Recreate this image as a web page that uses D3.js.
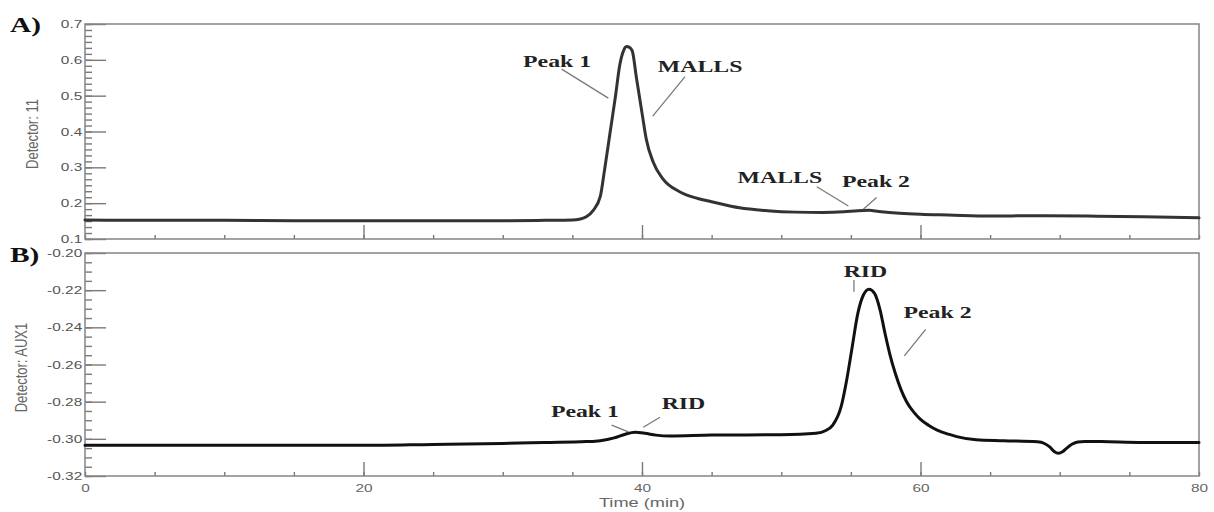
<!DOCTYPE html>
<html>
<head>
<meta charset="utf-8">
<script src="https://cdn.jsdelivr.net/npm/d3@7"></script>
<style>
	html, body { margin: 0; padding: 0; background: #fff; }
	svg { display: block; }
	.frame { fill: none; stroke: #858585; stroke-width: 1.5; }
	.axtitle { font-family: "Liberation Sans", Arial, sans-serif; font-size: 13px; fill: #666; }
	.note { font-family: "Liberation Serif", "Times New Roman", serif; font-weight: bold; font-size: 17px; fill: #222; }
	.tag { font-family: "Liberation Serif", "Times New Roman", serif; font-weight: bold; font-size: 21px; fill: #111; }
	.leader { stroke: #7a7a7a; stroke-width: 1.3; }
	.trace { fill: none; stroke-linejoin: round; stroke-linecap: round; }
</style>
</head>
<body>
<svg id="chart" width="1214" height="512"></svg>
<script>
// A) MALLS detector (Detector 11)
var timeA = [0, 5, 10, 15, 20, 25, 30, 33, 35, 35.5, 36, 36.5, 37, 37.3, 37.7, 38.1, 38.4, 38.7, 38.9, 39.1, 39.3, 39.6, 40, 40.3, 40.8, 41.5, 42.7, 44, 45, 47, 49, 51, 53, 54.5, 55.5, 56.3, 57, 58.5, 60, 62, 65, 68, 72, 76, 80];
var signalA = [0.153, 0.152, 0.152, 0.151, 0.151, 0.151, 0.151, 0.152, 0.153, 0.155, 0.162, 0.18, 0.218, 0.29, 0.395, 0.50, 0.585, 0.628, 0.637, 0.635, 0.625, 0.55, 0.452, 0.38, 0.315, 0.268, 0.232, 0.213, 0.204, 0.187, 0.179, 0.175, 0.174, 0.176, 0.179, 0.180, 0.177, 0.172, 0.169, 0.167, 0.164, 0.165, 0.164, 0.162, 0.159];

// B) RID detector (AUX1)
var timeB = [0, 10, 20, 25, 30, 33, 36, 37, 38, 38.8, 39.5, 40.2, 41, 42, 45, 50, 52.5, 53.2, 53.7, 54.3, 54.7, 55.06, 55.5, 55.9, 56.3, 56.7, 57.1, 57.45, 57.8, 58.2, 58.6, 59, 59.5, 60, 60.6, 61.2, 62, 62.6, 64, 66, 68.4, 68.9, 69.3, 69.6, 69.9, 70.2, 70.5, 70.9, 71.3, 71.8, 73, 76, 80];
var signalB = [-0.3035, -0.3035, -0.3035, -0.303, -0.3025, -0.302, -0.3015, -0.301, -0.2995, -0.2975, -0.2965, -0.297, -0.298, -0.2985, -0.298, -0.2978, -0.297, -0.2955, -0.2926, -0.2827, -0.2683, -0.2522, -0.2325, -0.2226, -0.2195, -0.2217, -0.2307, -0.2432, -0.2545, -0.265, -0.2735, -0.28, -0.2855, -0.2895, -0.2928, -0.2953, -0.2975, -0.2988, -0.3005, -0.301, -0.3016, -0.3025, -0.3045, -0.3068, -0.3078, -0.307, -0.305, -0.3028, -0.3017, -0.3014, -0.3015, -0.302, -0.302];

var xMajor = [0, 20, 40, 60, 80];
var xMinor = d3.range(0, 81, 5);
var yMajorA = [0.1, 0.2, 0.3, 0.4, 0.5, 0.6, 0.7];
var yMajorB = [-0.32, -0.30, -0.28, -0.26, -0.24, -0.22, -0.20];

// annotation text + leader line ends, in data units (time, signal)
var notesA = [
	{ text: "Peak 1", t: 33.9, v: 0.58, line: [[34.23, 0.574], [37.58, 0.493]] },
	{ text: "MALLS", t: 44.17, v: 0.566, line: [[43.09, 0.553], [40.77, 0.443]] },
	{ text: "MALLS", t: 49.9, v: 0.256, line: [[52.55, 0.246], [54.82, 0.192]] },
	{ text: "Peak 2", t: 56.8, v: 0.245, line: [[56.85, 0.216], [55.89, 0.183]] }
];
var notesB = [
	{ text: "Peak 1", t: 35.9, v: -0.2883, line: [[37.82, -0.2926], [39.02, -0.2962]] },
	{ text: "RID", t: 42.98, v: -0.2839, line: [[41.29, -0.2884], [40.09, -0.2938]] },
	{ text: "RID", t: 56.05, v: -0.2129, line: [[55.22, -0.2145], [55.22, -0.2208]] },
	{ text: "Peak 2", t: 61.22, v: -0.235, line: [[60.37, -0.2411], [58.84, -0.2554]] }
];

var svg = d3.select('#chart');
var stretch = 1.4; // the source picture is widened horizontally

var x = d3.scaleLinear().domain([0, 80]).range([85, 1199]);

function drawPanel(opts) {
	var y = d3.scaleLinear().domain(opts.domain).range([opts.bottom, opts.top]);
	var g = svg.append('g');

	// x ticks (inward)
	var xMinAxis = g.append('g')
		.attr('transform', 'translate(0,' + opts.bottom + ')')
		.call(d3.axisBottom(x).tickValues(xMinor).tickSize(-4).tickFormat(''));
	var xMajAxis = g.append('g')
		.attr('transform', 'translate(0,' + opts.bottom + ')')
		.call(d3.axisBottom(x).tickValues(xMajor.slice(1, -1)).tickSize(-14).tickFormat(''));

	// y ticks (inward)
	var yMinAxis = g.append('g')
		.attr('transform', 'translate(' + x(0) + ',0)')
		.call(d3.axisLeft(y).tickValues(opts.minor).tickSize(-7).tickFormat(''));
	var yMajAxis = g.append('g')
		.attr('transform', 'translate(' + x(0) + ',0)')
		.call(d3.axisLeft(y).tickValues(opts.major).tickSize(-21).tickPadding(2)
			.tickFormat(function(d) { return opts.fmt(d).replace('\u2212', '-'); }));

	[xMinAxis, xMajAxis, yMinAxis, yMajAxis].forEach(function(a) {
		a.attr('color', '#7a7a7a');
		a.select('.domain').remove();
		a.selectAll('line').attr('stroke-width', 1.4);
	});

	yMajAxis.selectAll('text')
		.attr('font-family', '"Liberation Sans", Arial, sans-serif')
		.attr('font-size', 11)
		.attr('fill', '#555')
		.attr('transform', 'scale(' + stretch + ',1)');

	if (opts.xLabels) {
		var labAxis = g.append('g')
			.attr('transform', 'translate(0,' + opts.bottom + ')')
			.call(d3.axisBottom(x).tickValues(xMajor).tickSize(0).tickPadding(8));
		labAxis.select('.domain').remove();
		labAxis.selectAll('text')
			.attr('font-family', '"Liberation Sans", Arial, sans-serif')
			.attr('font-size', 11)
			.attr('fill', '#666')
			.attr('transform', 'scale(' + stretch + ',1)');

		g.append('text')
			.attr('class', 'axtitle')
			.attr('text-anchor', 'middle')
			.attr('font-size', 14)
			.attr('transform', 'translate(' + x(40) + ',507) scale(' + stretch + ',1)')
			.text('Time (min)');
	}

	// frame
	g.append('rect')
		.attr('class', 'frame')
		.attr('x', x(0))
		.attr('y', opts.top)
		.attr('width', x(80) - x(0))
		.attr('height', opts.bottom - opts.top);

	// y title
	g.append('text')
		.attr('class', 'axtitle')
		.attr('text-anchor', 'middle')
		.attr('transform', 'translate(' + opts.titleX + ',' + ((opts.top + opts.bottom) / 2 + opts.titleDy) + ') rotate(-90) scale(1,1.25)')
		.attr('dy', '0.35em')
		.text(opts.title);

	// panel tag
	g.append('text')
		.attr('class', 'tag')
		.attr('transform', 'translate(10,' + opts.tagY + ') scale(' + stretch + ',1)')
		.text(opts.tag);

	// trace
	var line = d3.line()
		.x(function(d) { return x(d[0]); })
		.y(function(d) { return y(d[1]); })
		.curve(d3.curveMonotoneX);

	g.append('path')
		.attr('class', 'trace')
		.attr('stroke', opts.color)
		.attr('stroke-width', 3)
		.attr('d', line(d3.zip(opts.time, opts.signal)));

	// annotations
	opts.notes.forEach(function(n) {
		g.append('line')
			.attr('class', 'leader')
			.attr('x1', x(n.line[0][0])).attr('y1', y(n.line[0][1]))
			.attr('x2', x(n.line[1][0])).attr('y2', y(n.line[1][1]));
		g.append('text')
			.attr('class', 'note')
			.attr('text-anchor', 'middle')
			.attr('transform', 'translate(' + x(n.t) + ',' + y(n.v) + ') scale(' + stretch + ',1)')
			.text(n.text);
	});
}

drawPanel({
	top: 24, bottom: 239,
	domain: [0.1, 0.7],
	major: yMajorA,
	minor: d3.range(0, 37).map(function(i) { return 0.1 + i * 0.1 / 6; }),
	fmt: d3.format('.1f'),
	title: 'Detector: 11', titleX: 32, titleDy: 2.5,
	tag: 'A)', tagY: 32,
	color: '#333',
	time: timeA, signal: signalA,
	notes: notesA,
	xLabels: false
});

drawPanel({
	top: 253, bottom: 476,
	domain: [-0.32, -0.20],
	major: yMajorB,
	minor: d3.range(0, 25).map(function(i) { return -0.32 + i * 0.005; }),
	fmt: d3.format('.2f'),
	title: 'Detector: AUX1', titleX: 21, titleDy: 3,
	tag: 'B)', tagY: 262,
	color: '#111',
	time: timeB, signal: signalB,
	notes: notesB,
	xLabels: true
});
</script>
</body>
</html>
